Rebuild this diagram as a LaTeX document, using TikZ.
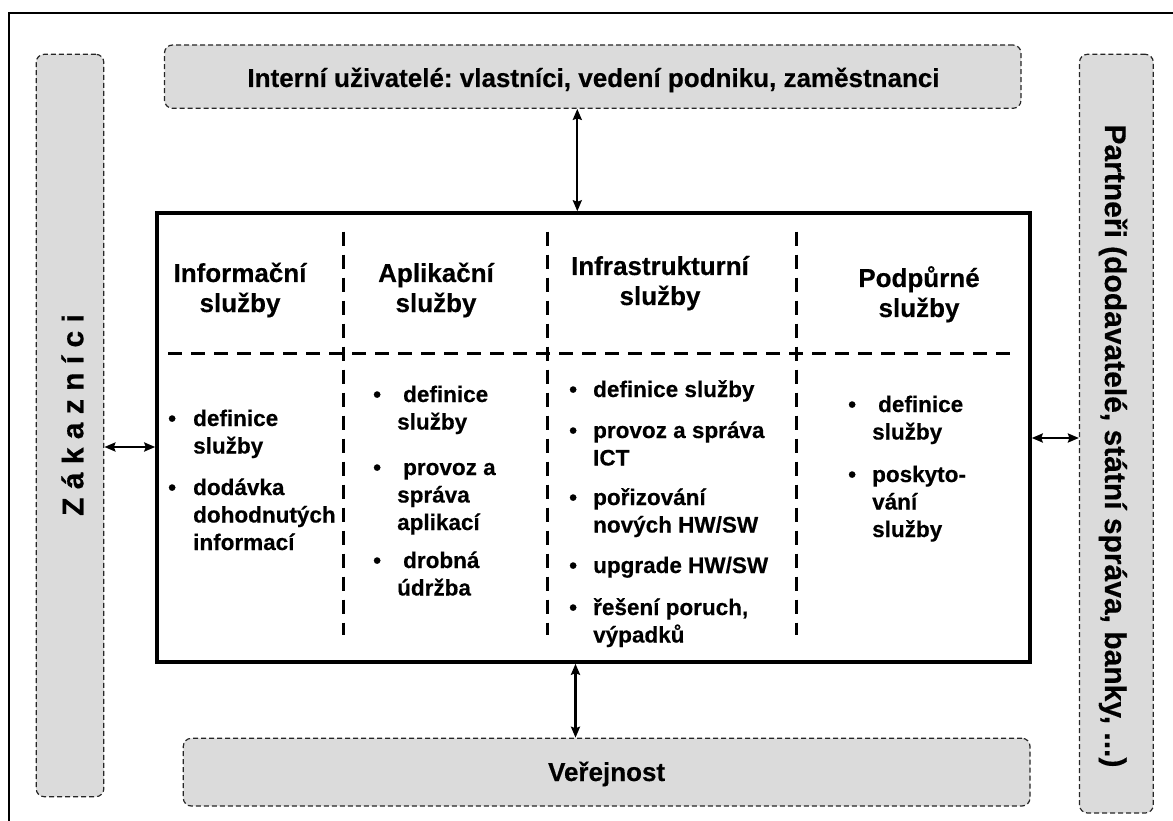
\documentclass[tikz,border=0pt]{standalone}
\usepackage{fontspec}
\setmainfont{Liberation Sans}[BoldFeatures={FakeBold=0.4}]
\usetikzlibrary{arrows.meta}
\frenchspacing
\newcommand{\blist}[2]{\begin{tabular}[t]{@{}p{#1}@{}l@{}}#2\end{tabular}}
\newcommand{\hlist}[1]{\begin{tabular}[t]{@{}c@{}}#1\end{tabular}}
\begin{document}
\begin{tikzpicture}[x=1pt,y=-1pt,
  sidebox/.style={draw=black!85, fill=black!14, line width=1.2pt, dash pattern=on 5pt off 3pt, rounded corners=8pt, inner sep=0pt},
  mainbox/.style={draw=black, line width=3.5pt, inner sep=0pt},
  sep/.style={line width=3pt, dash pattern=on 14pt off 9pt},
  link/.style={line width=2.3pt, {Stealth[length=11pt,width=9pt,inset=1.5pt]}-{Stealth[length=11pt,width=9pt,inset=1.5pt]}},
  bigtxt/.style={font=\fontsize{26}{30}\selectfont\bfseries, inner sep=0pt},
  sidetxt/.style={font=\fontsize{30}{34}\selectfont\bfseries, inner sep=0pt},
  head/.style={font=\fontsize{26}{30}\selectfont\bfseries, inner sep=0pt, anchor=base},
  itemtxt/.style={font=\fontsize{22.5}{27.5}\selectfont\bfseries, inner sep=0pt, anchor=base west}]
\useasboundingbox (0,0) rectangle (1173,821);
% outer frame (only top and left visible)
\draw[line width=2pt] (8.7,821) -- (8.7,13.3) -- (1173,13.3);
% surrounding boxes
\node[sidebox, minimum width=856.5pt, minimum height=63.3pt] (top) at (592.75,76.65) {};
\node[sidebox, minimum width=67.6pt, minimum height=742.4pt] (left) at (70,425.5) {};
\node[sidebox, minimum width=73.8pt, minimum height=758.7pt] (right) at (1116.4,433.65) {};
\node[sidebox, minimum width=846.7pt, minimum height=67.7pt] (bottom) at (606.65,772.15) {};
\node[bigtxt, anchor=base] (toptxt) at (593.5,87) {Interní uživatelé: vlastníci, vedení podniku, zaměstnanci};
\node[bigtxt, anchor=base] (bottxt) at (606.6,781) {Veřejnost};
\node[sidetxt, anchor=base, rotate=90] (lefttxt) at (83.3,415) {Z á k a z n í c i};
\node[sidetxt, anchor=base, rotate=-90] (righttxt) at (1105,446) {Partneři (dodavatelé, státní správa, banky, ...)};
% main box
\node[mainbox, minimum width=873pt, minimum height=449pt] (main) at (593.5,437.5) {};
% connectors
\coordinate (ax1) at (577.3,0);
\coordinate (ax2) at (575.5,0);
\coordinate (ay1) at (0,447);
\coordinate (ay2) at (0,438);
\draw[link] (top.south -| ax1) -- (main.north -| ax1);
\draw[link] (main.south -| ax2) -- (bottom.north -| ax2);
\draw[link] (left.east |- ay1) -- (main.west |- ay1);
\draw[link] (main.east |- ay2) -- (right.west |- ay2);
% internal dashed separators
\draw[sep] (343,231.7) -- (343,635);
\draw[sep] (547,231.7) -- (547,635);
\draw[sep] (796.7,231.7) -- (796.7,635);
\draw[sep] (168.3,353.8) -- (1010,353.8);
% headers
\node[head] (h1) at (240,282) {\hlist{Informační\\služby}};
\node[head] (h2) at (436,282) {\hlist{Aplikační\\služby}};
\node[head] (h3) at (660,275) {\hlist{Infrastrukturní\\služby}};
\node[head] (h4) at (919,287) {\hlist{Podpůrné\\služby}};
% column 1
\node[itemtxt] (c1a) at (168,426) {\blist{25pt}{•&definice\\&služby}};
\node[itemtxt] (c1b) at (168,495) {\blist{25pt}{•&dodávka\\&dohodnutých\\&informací}};
% column 2
\node[itemtxt] (c2a) at (373,402) {\blist{24pt}{•&\hspace{6pt}definice\\&služby}};
\node[itemtxt] (c2b) at (373,475) {\blist{24pt}{•&\hspace{6pt}provoz a\\&správa\\&aplikací}};
\node[itemtxt] (c2c) at (373,568) {\blist{24pt}{•&\hspace{6pt}drobná\\&údržba}};
% column 3
\node[itemtxt] (c3a) at (569,397) {\blist{24pt}{•&definice služby}};
\node[itemtxt] (c3b) at (569,438) {\blist{24pt}{•&provoz a správa\\&ICT}};
\node[itemtxt] (c3c) at (569,505) {\blist{24pt}{•&pořizování\\&nových HW/SW}};
\node[itemtxt] (c3d) at (569,573) {\blist{24pt}{•&upgrade HW/SW}};
\node[itemtxt] (c3e) at (569,615) {\blist{24pt}{•&řešení poruch,\\&výpadků}};
% column 4
\node[itemtxt] (c4a) at (848,412) {\blist{24pt}{•&\hspace{6pt}definice\\&služby}};
\node[itemtxt] (c4b) at (848,482) {\blist{24pt}{•&poskyto-\\&vání\\&služby}};
\end{tikzpicture}
\end{document}
